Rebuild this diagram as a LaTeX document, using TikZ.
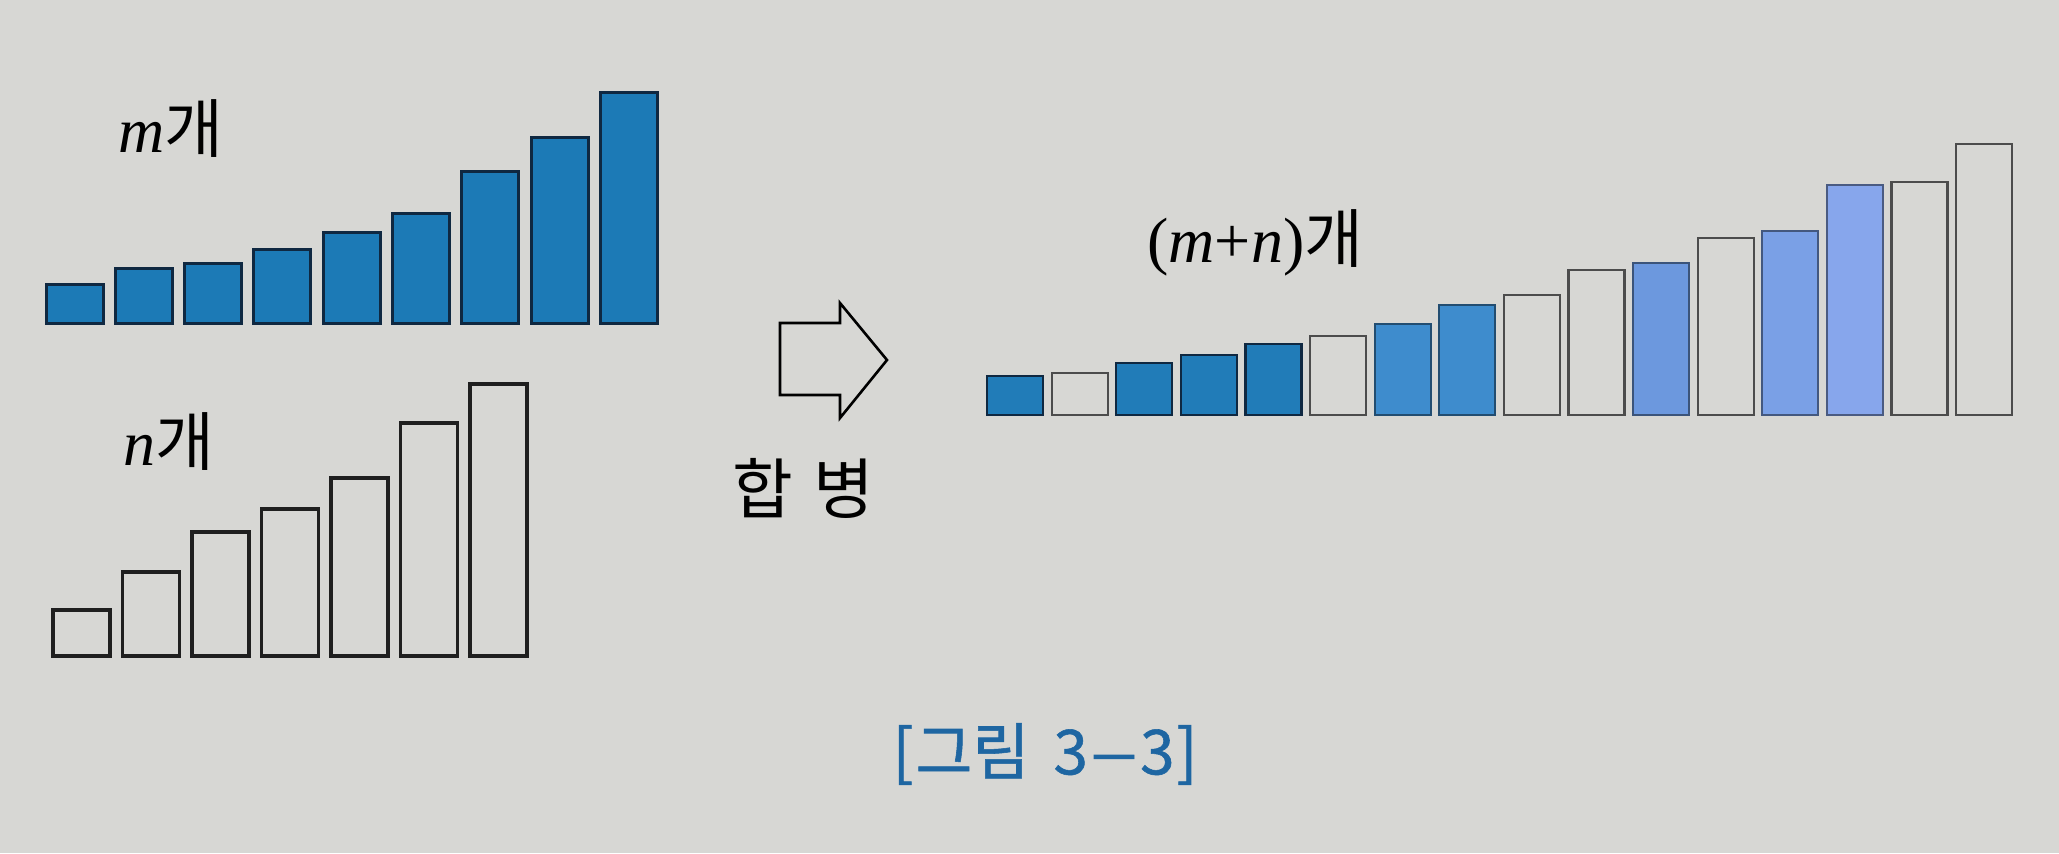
\documentclass[tikz,border=0pt]{standalone}
\usepackage{graphicx}
\usepackage{fontspec}
\newfontfamily\kr{Noto Sans CJK KR}
\newfontfamily\krcap{Noto Sans CJK KR}[FakeBold=0.9]
\newfontfamily\tms{Liberation Serif}
\definecolor{paper}{RGB}{215,215,212}
\definecolor{mblue}{RGB}{28,122,182}
\definecolor{mnavy}{RGB}{15,40,65}
\definecolor{ttlblue}{RGB}{30,102,162}
\definecolor{bA}{RGB}{33,124,184}
\definecolor{bB}{RGB}{62,140,205}
\definecolor{bC}{RGB}{108,152,222}
\definecolor{bD}{RGB}{122,160,230}
\definecolor{bE}{RGB}{135,166,236}
\tikzset{
  mbar/.style={fill=mblue, draw=mnavy, line width=1.5pt},
  nbar/.style={draw=black!88, line width=1.6pt},
  wbar/.style={draw=black!70, line width=1.1pt},
  fA/.style={fill=bA, draw=mnavy, line width=1.2pt},
  fB/.style={fill=bB, draw=bB!55!black, line width=1pt},
  fC/.style={fill=bC, draw=bC!55!black, line width=0.9pt},
  fD/.style={fill=bD, draw=bD!55!black, line width=0.9pt},
  fE/.style={fill=bE, draw=bE!55!black, line width=0.9pt},
  lbl/.style={inner sep=0pt, font=\fontsize{32}{36}\selectfont},
  arrowshape/.style={draw=black, line width=1.3pt, line join=miter},
}
\begin{document}
\begin{tikzpicture}[x=0.5pt,y=-0.5pt]
\fill[paper] (0,0) rectangle (2059,853);
\useasboundingbox (0,0) rectangle (2059,853);

% m bars
\foreach \i/\t in {0/284,1/268,2/263,3/249,4/232,5/213,6/171,7/137,8/92}
  \draw[mbar] ({46+69.3*\i},\t) rectangle ({46+69.3*\i+57},323);

% n bars
\foreach \i/\t in {0/610,1/572,2/532,3/509,4/478,5/423,6/384}
  \draw[nbar] ({53+69.5*\i},\t) rectangle ({53+69.5*\i+57},656);

% merged bars
\foreach \i/\t/\s in {0/376/fA,1/373/wbar,2/363/fA,3/355/fA,4/344/fA,5/336/wbar,
  6/324/fB,7/305/fB,8/295/wbar,9/270/wbar,10/263/fC,11/238/wbar,12/231/fD,
  13/185/fE,14/182/wbar,15/144/wbar}
  \draw[\s] ({987+64.6*\i},\t) rectangle ({987+64.6*\i+56},415);

% labels
\node[lbl, anchor=base west] (mlab) at (118,152) {{\tms\itshape m}{\kr 개}};
\node[lbl, anchor=base west] (nlab) at (123,465) {{\tms\itshape n}{\kr 개}};
\node[lbl, anchor=base west] (mnlab) at (1147,262) {{\tms (\textit{m}+\textit{n})}{\kr 개}};

% arrow
\draw[arrowshape] (780,323) -- (840,323) -- (840,303) -- (887,360)
  -- (840,418) -- (840,395) -- (780,395) -- cycle;
\node[inner sep=0pt, font=\kr\fontsize{33}{38}\selectfont] (merge) at (803,488) {합\hspace{10pt}병};

% caption
\node[inner sep=0pt, text=ttlblue, font=\krcap\fontsize{31}{36}\selectfont] (caption) at (1045,754)
  {[\kern1pt그림\hspace{12pt}3\kern1pt\scalebox{1.45}[1]{–}\kern1pt3\kern1pt]};
\end{tikzpicture}
\end{document}
